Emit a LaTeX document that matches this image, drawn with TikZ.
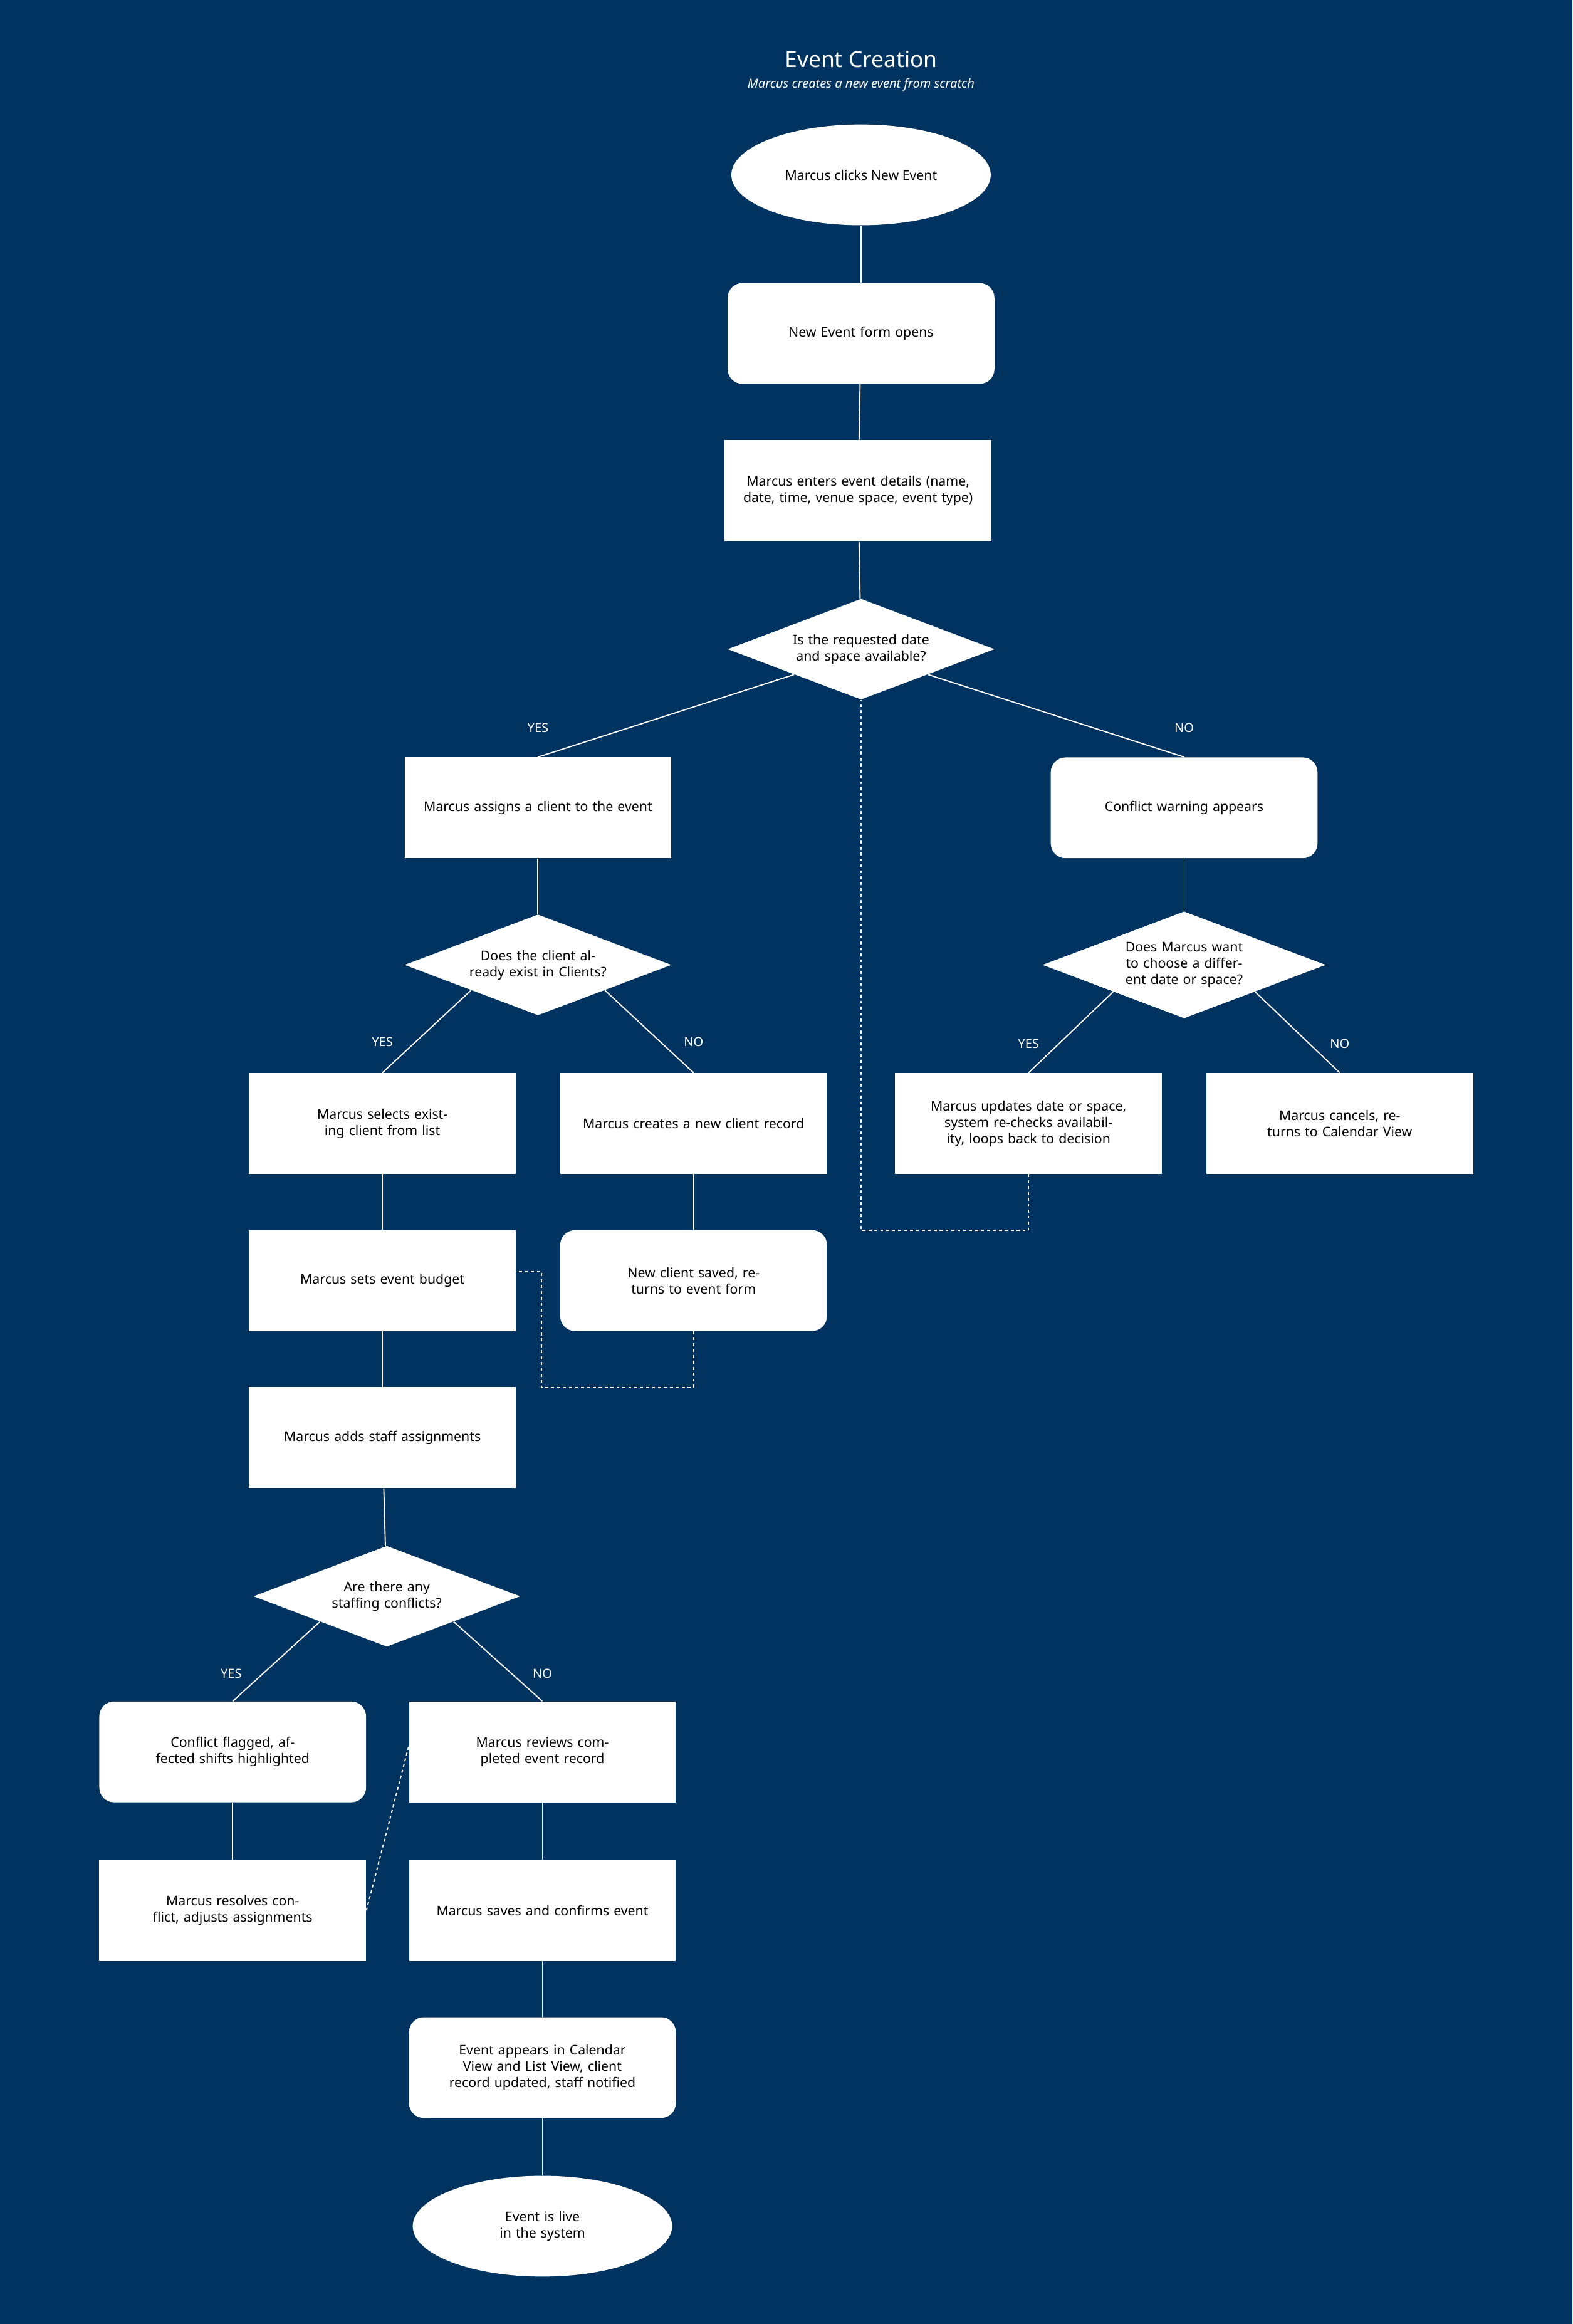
\documentclass[tikz,border=0pt]{standalone}
\usepackage{fontspec}
\setmainfont{Noto Sans}
\usetikzlibrary{shapes.geometric}
\definecolor{navy}{HTML}{00335F}

\begin{document}
\begin{tikzpicture}[x=1pt,y=-1pt,
    every node/.style={font=\fontsize{9}{11}\selectfont, text=black, align=center},
    box/.style={draw=none, fill=white, minimum width=180pt, minimum height=68pt, text width=160pt},
    rbox/.style={box, rounded corners=10pt},
    term/.style={ellipse, fill=white, minimum width=175pt, minimum height=68pt, font=\fontsize{9}{11}\selectfont\bfseries},
    dec/.style={diamond, fill=white, minimum width=180pt, minimum height=68pt, aspect=2.65, inner sep=0pt, text width=110pt},
    lab/.style={text=white, font=\fontsize{8.5}{10}\selectfont\bfseries},
    link/.style={draw=white, line width=0.8pt},
    loop/.style={draw=white, line width=0.8pt, dash pattern=on 2pt off 2pt}]
    \fill[navy] (0,0) rectangle (1061,1568);
    \useasboundingbox (0,0) rectangle (1061,1568);
    % heading
    \node[text=white, font=\fontsize{15}{18}\selectfont\bfseries] (title) at (581,40) {Event Creation};
    \node[text=white, font=\fontsize{8.5}{10}\selectfont\itshape] (subtitle) at (581,57) {Marcus creates a new event from scratch};
    % main path
    \node[term] (start) at (581,118) {Marcus clicks New Event};
    \node[rbox] (form) at (581,225) {New Event form opens};
    \node[box] (details) at (579,331) {Marcus enters event details (name, date, time, venue space, event type)};
    \node[dec] (avail) at (581,438) {Is the requested date and space available?};
    \node[box] (assign) at (363,545) {Marcus assigns a client to the event};
    \node[rbox] (warn) at (799,545) {Conflict warning appears};
    \node[dec] (exists) at (363,651) {Does the client already exist in Clients?};
    \node[dec] (choose) at (799,651) {Does Marcus want to choose a different date or space?};
    \node[box] (select) at (258,758) {Marcus selects existing client from list};
    \node[box] (create) at (468,758) {Marcus creates a new client record};
    \node[box] (update) at (694,758) {Marcus updates date or space, system re-checks availability, loops back to decision};
    \node[box] (cancel) at (904,758) {Marcus cancels, returns to Calendar View};
    \node[box] (budget) at (258,864) {Marcus sets event budget};
    \node[rbox] (saved) at (468,864) {New client saved, returns to event form};
    \node[box] (staff) at (258,970) {Marcus adds staff assignments};
    \node[dec] (clash) at (261,1077) {Are there any staffing conflicts?};
    \node[rbox] (flag) at (157,1182) {Conflict flagged, affected shifts highlighted};
    \node[box] (review) at (366,1182) {Marcus reviews completed event record};
    \node[box] (resolve) at (157,1289) {Marcus resolves conflict, adjusts assignments};
    \node[box] (confirm) at (366,1289) {Marcus saves and confirms event};
    \node[rbox] (appear) at (366,1395) {Event appears in Calendar View and List View, client record updated, staff notified};
    \node[term, text width=80pt] (live) at (366,1502) {Event is live in the system};
    % branch labels
    \node[lab] (y1) at (363,491) {YES};
    \node[lab] (n1) at (799,491) {NO};
    \node[lab] (y2) at (258,703) {YES};
    \node[lab] (n2) at (468,703) {NO};
    \node[lab] (y3) at (694,704) {YES};
    \node[lab] (n3) at (904,704) {NO};
    \node[lab] (y4) at (156,1129) {YES};
    \node[lab] (n4) at (366,1129) {NO};
    % connectors
    \draw[link] (start) -- (form);
    \draw[link] (form) -- (details);
    \draw[link] (details) -- (avail);
    \draw[link] (avail.south west) -- (assign.north);
    \draw[link] (avail.south east) -- (warn.north);
    \draw[link] (assign) -- (exists);
    \draw[link] (warn) -- (choose);
    \draw[link] (exists.south west) -- (select.north);
    \draw[link] (exists.south east) -- (create.north);
    \draw[link] (choose.south west) -- (update.north);
    \draw[link] (choose.south east) -- (cancel.north);
    \draw[link] (select) -- (budget);
    \draw[link] (create) -- (saved);
    \draw[link] (budget) -- (staff);
    \draw[link] (staff) -- (clash);
    \draw[link] (clash.south west) -- (flag.north);
    \draw[link] (clash.south east) -- (review.north);
    \draw[link] (flag) -- (resolve);
    \draw[link] (review) -- (confirm);
    \draw[link] (confirm) -- (appear);
    \draw[link] (appear) -- (live);
    % loop backs
    \draw[loop] (update.south) -- ++(0,38) -| (avail.south);
    \draw[loop] (saved.south) -- ++(0,38) -| ([xshift=17pt,yshift=6pt]budget.east) -- ([yshift=6pt]budget.east);
    \draw[loop] (resolve.east) -- ([yshift=4pt]review.west);
\end{tikzpicture}
\end{document}
